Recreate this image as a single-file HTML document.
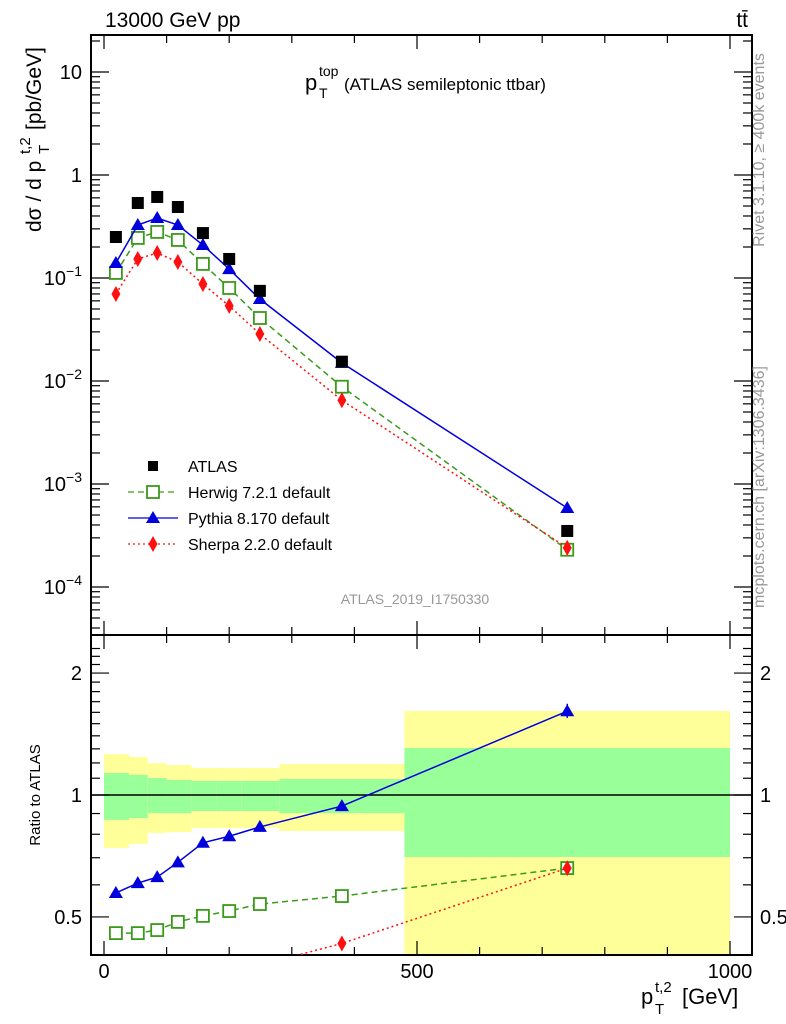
<!DOCTYPE html>
<html><head><meta charset="utf-8"><style>
body{margin:0;background:#fff;}
svg{display:block;font-family:"Liberation Sans",sans-serif;}
</style></head><body>
<svg id="c" width="786" height="1024" viewBox="0 0 786 1024">
<g id="bands"></g>
<g id="axes"></g>
<g id="series"></g>
<text x="105" y="27" font-size="21">13000 GeV pp</text>
<text x="748" y="27" font-size="21" text-anchor="end">tt̄</text>
<g>
<text x="305" y="90" font-size="22">p</text>
<text x="319" y="76" font-size="14">top</text>
<text x="319" y="98" font-size="14">T</text>
<text x="344" y="90" font-size="17">(ATLAS semileptonic ttbar)</text>
</g>
<text x="415" y="604" font-size="14" fill="#999" text-anchor="middle">ATLAS_2019_I1750330</text>
<g transform="translate(41,232) rotate(-90)">
<text x="0" y="0" font-size="21">dσ / d p</text>
<text x="78" y="-11" font-size="15">t,2</text>
<text x="78" y="8" font-size="15">T</text>
<text x="102" y="0" font-size="21">[pb/GeV]</text>
</g>
<text transform="translate(40,795) rotate(-90)" font-size="15" text-anchor="middle">Ratio to ATLAS</text>
<g>
<text x="641" y="1004" font-size="22">p</text>
<text x="655" y="992" font-size="15">t,2</text>
<text x="655" y="1014" font-size="15">T</text>
<text x="682" y="1004" font-size="22">[GeV]</text>
</g>
<text transform="translate(764,150) rotate(-90)" font-size="16" fill="#999" text-anchor="middle">Rivet 3.1.10, ≥ 400k events</text>
<text transform="translate(764,487) rotate(-90)" font-size="16" fill="#999" text-anchor="middle">mcplots.cern.ch [arXiv:1306.3436]</text>
<g id="legend"></g>
</svg>
<script>
const binEdges=[0,40,70,100,140,180,220,280,480,1000];
const xCenters=[19,54,85,118,158,200,249,380,740];
const atlas=[0.250,0.535,0.612,0.489,0.273,0.153,0.075,0.0154,3.5e-4];
const herwig=[0.112,0.245,0.280,0.234,0.137,0.080,0.0409,0.0088,2.3e-4];
const pythia=[0.140,0.327,0.382,0.327,0.209,0.122,0.0625,0.0150,5.85e-4];
const sherpa=[0.070,0.153,0.175,0.143,0.0875,0.0536,0.0286,0.0065,2.4e-4];
const herwigRatio=[0.456,0.456,0.464,0.486,0.503,0.517,0.538,0.563,0.66];
const pythiaRatio=[0.573,0.606,0.627,0.682,0.762,0.791,0.834,0.939,1.61];
const sherpaRatio=[0.28,0.29,0.29,0.29,0.32,0.35,0.38,0.43,0.66];
const yellowHi=[1.262,1.241,1.199,1.186,1.166,1.166,1.166,1.193,1.612];
const yellowLo=[0.740,0.757,0.806,0.810,0.829,0.829,0.829,0.815,0.30];
const greenHi=[1.133,1.121,1.101,1.089,1.083,1.083,1.083,1.095,1.306];
const greenLo=[0.868,0.877,0.902,0.902,0.913,0.913,0.913,0.902,0.703];
const topTicks=["10⁻⁴","10⁻³","10⁻²","10⁻¹","1","10"];
const ratioTicks=[0.5,1,2];
const xTicks=[0,500,1000];

const NS="http://www.w3.org/2000/svg";
const L=91,R=752,T=35,M=635,B=955;
const X=v=>104+v*0.626;
const Y=v=>175-103*Math.log10(v);
const YR=v=>795-405*Math.log10(v);
function mk(tag,attrs,parent){const e=document.createElementNS(NS,tag);for(const k in attrs)e.setAttribute(k,attrs[k]);parent.appendChild(e);return e;}
const ax=document.getElementById('axes'),bd=document.getElementById('bands'),se=document.getElementById('series'),lg=document.getElementById('legend');

for(let i=0;i<yellowHi.length;i++){
  const x0=X(binEdges[i]),x1=X(binEdges[i+1]);
  const yh=YR(yellowHi[i]),yl=Math.min(B,YR(yellowLo[i]));
  let r=mk('rect',{x:x0,y:yh,width:x1-x0,height:yl-yh,fill:'#ffff99'},bd);
  
  
  const gh=YR(greenHi[i]),gl=YR(greenLo[i]);
  r=mk('rect',{x:x0,y:gh,width:x1-x0,height:gl-gh,fill:'#99ff99'},bd);
  
  
}
mk('line',{x1:L,x2:R,y1:YR(1),y2:YR(1),stroke:'#000','stroke-width':1.5},ax);

mk('rect',{x:L,y:T,width:R-L,height:M-T,fill:'none',stroke:'#000','stroke-width':2},ax);
mk('rect',{x:L,y:M,width:R-L,height:B-M,fill:'none',stroke:'#000','stroke-width':2},ax);
for(let v=0;v<=1000;v+=100){
  const x=X(v);if(x<L||x>R)continue;const big=v%500===0,len=big?14:8;
  mk('line',{x1:x,x2:x,y1:B,y2:B-len,stroke:'#000','stroke-width':1.2},ax);
  mk('line',{x1:x,x2:x,y1:M,y2:M+len,stroke:'#000','stroke-width':1.2},ax);
  mk('line',{x1:x,x2:x,y1:M,y2:M-len,stroke:'#000','stroke-width':1.2},ax);
  mk('line',{x1:x,x2:x,y1:T,y2:T+len,stroke:'#000','stroke-width':1.2},ax);
}
xTicks.forEach(v=>{const t=mk('text',{x:X(v),y:978,'font-size':20,'text-anchor':'middle'},ax);t.textContent=v;

});
for(let e=-5;e<=1;e++){for(let m=1;m<10;m++){const v=m*Math.pow(10,e);const y=Y(v);if(y<T||y>M)continue;const len=m===1?18:9;
  mk('line',{x1:L,x2:L+len,y1:y,y2:y,stroke:'#000','stroke-width':1.2},ax);
  mk('line',{x1:R,x2:R-len,y1:y,y2:y,stroke:'#000','stroke-width':1.2},ax);}}
topTicks.forEach((s,i)=>{const y=Y(Math.pow(10,i-4));const t=mk('text',{x:82,y:y+7,'font-size':20,'text-anchor':'end'},ax);
 if(s.startsWith('10')&&s.length>2){t.textContent='10';const ts=mk('tspan',{'font-size':14,dy:-9},t);ts.textContent=s.slice(2).replace('⁻','−').replace(/[¹²³⁴]/,c=>({'¹':'1','²':'2','³':'3','⁴':'4'})[c]);}
 else t.textContent=s;
 
 });
for(let v=0.4;v<=2.4;v+=0.1){const y=YR(v);if(y<M||y>B)continue;const big=[0.5,1,2].some(q=>Math.abs(q-v)<1e-6);const len=big?18:9;
  mk('line',{x1:L,x2:L+len,y1:y,y2:y,stroke:'#000','stroke-width':1.2},ax);
  mk('line',{x1:R,x2:R-len,y1:y,y2:y,stroke:'#000','stroke-width':1.2},ax);}
ratioTicks.forEach(v=>{[[82,'end'],[760,'start']].forEach(([x,a])=>{const t=mk('text',{x:x,y:YR(v)+7,'font-size':20,'text-anchor':a},ax);t.textContent=v;
 
 });});

function marker(kind,x,y,g){
  if(kind==='sq') return mk('rect',{x:x-6,y:y-6,width:12,height:12,fill:'#000'},g);
  if(kind==='osq') return mk('rect',{x:x-6,y:y-6,width:12,height:12,fill:'#fff',stroke:'#3a9a1a','stroke-width':1.8},g);
  if(kind==='tri') return mk('polygon',{points:`${x},${y-7} ${x-7},${y+5} ${x+7},${y+5}`,fill:'#0000dd'},g);
  return mk('polygon',{points:`${x},${y-8} ${x-4.5},${y} ${x},${y+8} ${x+4.5},${y}`,fill:'#ff1010'},g);
}
const styles={herwig:{c:'#3a9a1a',d:'6,4',m:'osq'},pythia:{c:'#0000dd',d:'',m:'tri'},sherpa:{c:'#ff1010',d:'2,3',m:'dia'}};
function drawSeries(name,vals,yf,clip){
  const st=styles[name];const g=mk('g',{'clip-path':clip},se);
  
  
  const pts=vals.map((v,i)=>[X(xCenters[i]),yf(v)]);
  mk('polyline',{points:pts.map(p=>p.join(',')).join(' '),fill:'none',stroke:st.c,'stroke-width':1.5,'stroke-dasharray':st.d},g);
  pts.forEach(p=>{const m=marker(st.m,p[0],p[1],g);
    
    });
}
const defs=mk('defs',{},document.getElementById('c'));
const cp1=mk('clipPath',{id:'cTop'},defs);mk('rect',{x:L,y:T,width:R-L,height:M-T},cp1);
const cp2=mk('clipPath',{id:'cBot'},defs);mk('rect',{x:L,y:M,width:R-L,height:B-M},cp2);
drawSeries('herwig',herwig,Y,'url(#cTop)');
drawSeries('pythia',pythia,Y,'url(#cTop)');
drawSeries('sherpa',sherpa,Y,'url(#cTop)');
atlas.forEach((v,i)=>{const m=marker('sq',X(xCenters[i]),Y(v),se);
  
  });
drawSeries('herwig',herwigRatio,YR,'url(#cBot)');
drawSeries('pythia',pythiaRatio,YR,'url(#cBot)');
drawSeries('sherpa',sherpaRatio,YR,'url(#cBot)');
mk('line',{x1:X(740),x2:X(740),y1:YR(1.68),y2:YR(1.55),stroke:'#0000dd','stroke-width':1.5},se);

const items=[['ATLAS',null,'sq'],['Herwig 7.2.1 default','herwig','osq'],['Pythia 8.170 default','pythia','tri'],['Sherpa 2.2.0 default','sherpa','dia']];
items.forEach((it,i)=>{const y=466+26*i;const g=mk('g',{},lg);
  
  
  if(it[1]){const st=styles[it[1]];mk('line',{x1:128,x2:178,y1:y,y2:y,stroke:st.c,'stroke-width':1.2,'stroke-dasharray':st.d},g);}
  const mm=marker(it[2],153,y,g);
  if(it[2]==='sq'){mm.setAttribute('width',10);mm.setAttribute('height',10);mm.setAttribute('x',148);mm.setAttribute('y',y-5);}
  const t=mk('text',{x:188,y:y+6,'font-size':16},g);t.textContent=it[0];});
</script>
</body></html>
